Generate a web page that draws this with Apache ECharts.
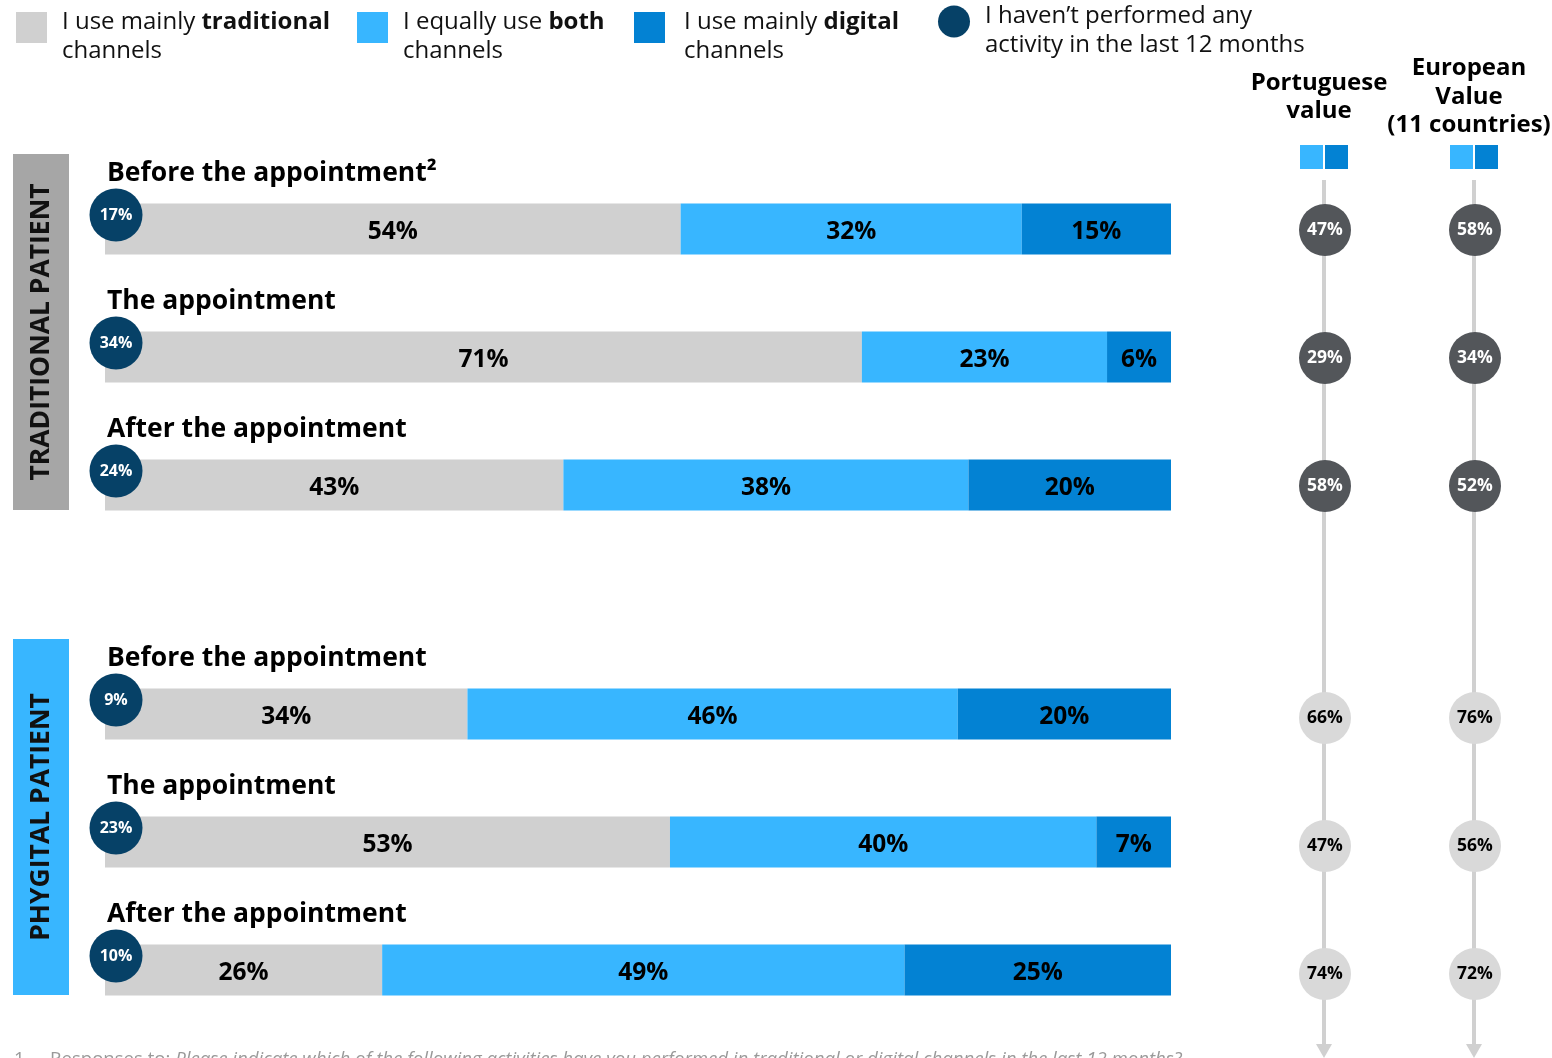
<!DOCTYPE html>
<html>
<head>
<meta charset="utf-8">
<title>Traditional vs phygital patient – channel use</title>
<script src="https://cdn.jsdelivr.net/npm/echarts@6/dist/echarts.min.js"></script>
<style>
  html, body { margin: 0; padding: 0; background: #ffffff; }
  #chart { width: 1552px; height: 1058px; }
</style>
</head>
<body>
<div id="chart"></div>
<script>
// ---- Data ----
const STAGES_TRAD = ['Before the appointment²', 'The appointment', 'After the appointment'];
const STAGES_PHY = ['Before the appointment', 'The appointment', 'After the appointment'];
const COLUMNS = ['Portuguese\nvalue', 'European\nValue\n(11 countries)'];

const SERIES_NAMES = [
  'I use mainly traditional channels',
  'I equally use both channels',
  'I use mainly digital channels',
  'I haven\u2019t performed any activity in the last 12 months'
];

// Traditional patient
const TRAD_TRADITIONAL = [54, 71, 43];
const TRAD_BOTH = [32, 23, 38];
const TRAD_DIGITAL = [15, 6, 20];
const TRAD_NONE = [17, 34, 24];
const TRAD_PT = [47, 29, 58];
const TRAD_EU = [58, 34, 52];

// Phygital patient
const PHY_TRADITIONAL = [34, 53, 26];
const PHY_BOTH = [46, 40, 49];
const PHY_DIGITAL = [20, 7, 25];
const PHY_NONE = [9, 23, 10];
const PHY_PT = [66, 47, 74];
const PHY_EU = [76, 56, 72];

// ---- Style ----
const FONT = '"Open Sans", "Noto Sans", sans-serif';
const C_TRAD = '#d0d0d0';
const C_BOTH = '#38b6ff';
const C_DIGI = '#0382d3';
const C_NAVY = '#064167';
const C_DARK = '#53565a';
const C_LIGHT = '#d9d9d9';
const C_PANEL_TRAD = '#a6a6a6';

const BAR_LEFT = 105, BAR_WIDTH = 1066;
const BLOCK_TOPS = [165, 650], BLOCK_HEIGHT = 384;
const RIGHT_LEFT = 1249, RIGHT_WIDTH = 300;

const blocks = [
  { stages: STAGES_TRAD, parts: [TRAD_TRADITIONAL, TRAD_BOTH, TRAD_DIGITAL], none: TRAD_NONE,
    pt: TRAD_PT, eu: TRAD_EU, dotFill: C_DARK, dotText: '#ffffff', dotShift: 1 },
  { stages: STAGES_PHY, parts: [PHY_TRADITIONAL, PHY_BOTH, PHY_DIGITAL], none: PHY_NONE,
    pt: PHY_PT, eu: PHY_EU, dotFill: C_LIGHT, dotText: '#000000', dotShift: 4 }
];

const grid = [], xAxis = [], yAxis = [], series = [];

blocks.forEach((b, g) => {
  grid.push({ left: BAR_LEFT, width: BAR_WIDTH, top: BLOCK_TOPS[g], height: BLOCK_HEIGHT,
    containLabel: false, outerBoundsMode: 'none' });
  xAxis.push({ gridIndex: g, type: 'value', min: 0, max: 100, show: false });
  yAxis.push({ gridIndex: g, type: 'category', data: b.stages, inverse: true, show: false });
});
blocks.forEach((b, g) => {
  grid.push({ left: RIGHT_LEFT, width: RIGHT_WIDTH, top: BLOCK_TOPS[g], height: BLOCK_HEIGHT,
    containLabel: false, outerBoundsMode: 'none' });
  xAxis.push({
    gridIndex: g + 2, type: 'category', data: COLUMNS, position: 'top',
    axisLine: { show: false }, axisTick: { show: false }, splitLine: { show: false },
    axisLabel: {
      show: g === 0, interval: 0, margin: 68, verticalAlign: 'middle',
      fontFamily: FONT, fontWeight: 'bold', fontSize: 24, lineHeight: 28.5, color: '#000',
      padding: [0, 10, 0, 0]
    }
  });
  yAxis.push({ gridIndex: g + 2, type: 'category', data: b.stages, inverse: true, show: false });
});

const barColors = [C_TRAD, C_BOTH, C_DIGI];
blocks.forEach((b, g) => {
  b.parts.forEach((vals, k) => {
    series.push({
      name: SERIES_NAMES[k], type: 'bar', stack: 'block' + g,
      xAxisIndex: g, yAxisIndex: g, barWidth: 51,
      itemStyle: { color: barColors[k] },
      label: {
        show: true, position: 'inside', offset: [0, 3], formatter: p => p.value + '%',
        fontFamily: FONT, fontWeight: 'bold', fontSize: 24.5, color: '#000'
      },
      emphasis: { disabled: true },
      data: vals
    });
  });
  // stage titles and "no activity" bubbles, placed from the category scale
  series.push({
    name: SERIES_NAMES[3], type: 'custom', xAxisIndex: g, yAxisIndex: g, z: 5,
    itemStyle: { color: C_NAVY },
    data: b.none.map((v, i) => [0, i, v]),
    renderItem: (params, api) => {
      const i = params.dataIndex;
      const p = api.coord([0, i]);
      const cx = p[0] + 11, cy = p[1] - 14;
      return {
        type: 'group',
        children: [
          { type: 'text', style: { text: b.stages[i], x: p[0] + 2, y: p[1] - 56,
              verticalAlign: 'middle', fill: '#000', font: 'bold 26.5px ' + FONT } },
          { type: 'circle', shape: { cx: cx, cy: cy, r: 26.5 }, style: { fill: C_NAVY } },
          { type: 'text', style: { text: api.value(2) + '%', x: cx, y: cy, align: 'center',
              verticalAlign: 'middle', fill: '#fff', font: 'bold 16px ' + FONT } }
        ]
      };
    }
  });
  // Portuguese / European bubbles
  const pts = b.pt.map((v, i) => [0, i, v]).concat(b.eu.map((v, i) => [1, i, v]));
  series.push({
    type: 'scatter', xAxisIndex: g + 2, yAxisIndex: g + 2, symbolSize: 52, z: 5,
    symbolOffset: [1, b.dotShift],
    itemStyle: { color: b.dotFill, opacity: 1 },
    label: {
      show: true, position: 'inside', formatter: p => p.value[2] + '%',
      fontFamily: FONT, fontWeight: 'bold', fontSize: 17.5, color: b.dotText
    },
    emphasis: { disabled: true },
    data: pts
  });
});

// ---- Legend ----
const LEGEND_TEXT = [
  'I use mainly {b|traditional}\nchannels',
  'I equally use {b|both}\nchannels',
  'I use mainly {b|digital}\nchannels',
  'I haven\u2019t performed any\nactivity in the last 12 months'
];
const LEGEND_LEFT = [16, 357, 634, 938];
const legend = SERIES_NAMES.map((name, i) => ({
  data: [{ name: name, icon: i === 3 ? 'circle' : 'rect' }],
  left: LEGEND_LEFT[i], top: i === 3 ? -16.5 : -10.5, padding: 0,
  itemWidth: i === 3 ? 32 : 31, itemHeight: i === 3 ? 32 : 31,
  selectedMode: false,
  formatter: () => LEGEND_TEXT[i],
  textStyle: {
    fontFamily: FONT, fontSize: 24, lineHeight: 29, color: '#111',
    padding: [18, 0, 0, i === 2 ? 14 : 10],
    rich: { b: { fontFamily: FONT, fontSize: 24, lineHeight: 29, fontWeight: 'bold', color: '#111' } }
  }
}));

// ---- Decorations: side panels, column guides, key squares, footnote ----
const colX = [RIGHT_LEFT + RIGHT_WIDTH / 4, RIGHT_LEFT + RIGHT_WIDTH * 3 / 4];
const graphic = [
  { type: 'rect', shape: { x: 13, y: 154, width: 56, height: 356 }, style: { fill: C_PANEL_TRAD } },
  { type: 'text', x: 41, y: 332, rotation: Math.PI / 2,
    style: { text: 'TRADITIONAL PATIENT', align: 'center', verticalAlign: 'middle',
      fill: '#111', font: 'bold 26.5px ' + FONT } },
  { type: 'rect', shape: { x: 13, y: 639, width: 56, height: 356 }, style: { fill: C_BOTH } },
  { type: 'text', x: 41, y: 817, rotation: Math.PI / 2,
    style: { text: 'PHYGITAL PATIENT', align: 'center', verticalAlign: 'middle',
      fill: '#111', font: 'bold 26.5px ' + FONT } },
  { type: 'text', left: 14, top: 1050,
    style: { text: '1', fill: '#999999', font: '18.6px ' + FONT } },
  {
    type: 'text', left: 50, top: 1050,
    style: {
      text: '{n|Responses to: }{i|Please indicate which of the following activities have you performed in traditional or digital channels in the last 12 months?}',
      fill: '#999999', font: '18.6px ' + FONT,
      rich: { n: { fill: '#999999', font: '18.6px ' + FONT },
              i: { fill: '#999999', font: 'italic 18.6px ' + FONT } }
    }
  }
];
colX.forEach(x => {
  graphic.push({ type: 'line', z: 0, shape: { x1: x, y1: 180, x2: x, y2: 1046 },
    style: { stroke: '#d0d0d0', lineWidth: 4 } });
  graphic.push({ type: 'polygon', z: 0, shape: { points: [[x - 8, 1044], [x + 8, 1044], [x, 1058]] },
    style: { fill: '#d0d0d0' } });
  graphic.push({ type: 'rect', shape: { x: x - 24, y: 145, width: 23, height: 24 }, style: { fill: C_BOTH } });
  graphic.push({ type: 'rect', shape: { x: x + 1, y: 145, width: 23, height: 24 }, style: { fill: C_DIGI } });
});

const chart = echarts.init(document.getElementById('chart'), null, { renderer: 'canvas' });
chart.setOption({
  animation: false,
  backgroundColor: '#ffffff',
  textStyle: { fontFamily: FONT },
  tooltip: { show: false },
  legend: legend,
  grid: grid,
  xAxis: xAxis,
  yAxis: yAxis,
  graphic: graphic,
  series: series
});
</script>
</body>
</html>
